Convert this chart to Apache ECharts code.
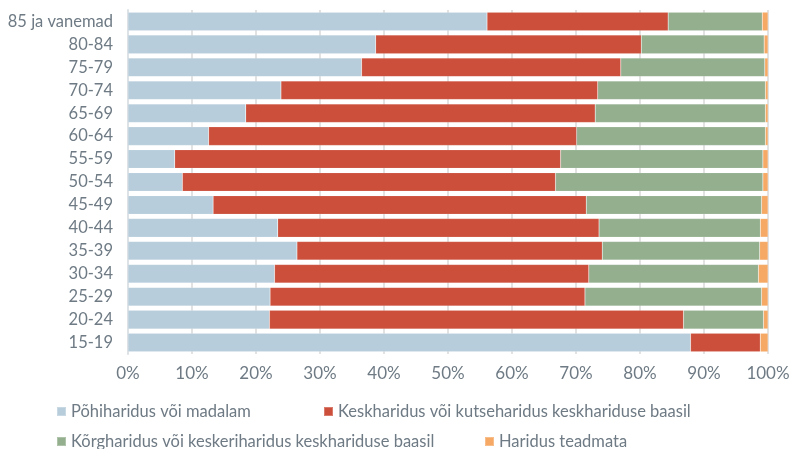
<!DOCTYPE html>
<html>
<head>
<meta charset="utf-8">
<script src="https://cdn.jsdelivr.net/npm/echarts@6/dist/echarts.min.js"></script>
<style>
  html, body { margin: 0; padding: 0; background: #fff; }
  #main { width: 791px; height: 449px; }
</style>
</head>
<body>
<div id="main"></div>
<script>
// age groups, bottom to top
var ageGroups = ['15-19', '20-24', '25-29', '30-34', '35-39', '40-44', '45-49', '50-54',
    '55-59', '60-64', '65-69', '70-74', '75-79', '80-84', '85 ja vanemad'];

// shares in %, same order as ageGroups
var pohiharidus  = [87.9, 22.1, 22.2, 22.9, 26.4, 23.4, 13.3, 8.5, 7.3, 12.6, 18.4, 23.9, 36.5, 38.7, 56.1];
var keskharidus  = [10.9, 64.7, 49.2, 49.1, 47.7, 50.2, 58.3, 58.3, 60.3, 57.5, 54.6, 49.5, 40.5, 41.5, 28.3];
var korgharidus  = [0.0, 12.5, 27.6, 26.5, 24.6, 25.2, 27.4, 32.4, 31.6, 29.5, 26.6, 26.2, 22.5, 19.2, 14.7];
var teadmata     = [1.2, 0.7, 1.0, 1.5, 1.3, 1.2, 1.0, 0.8, 0.8, 0.4, 0.4, 0.4, 0.5, 0.6, 0.9];

var seriesNames = ['Põhiharidus või madalam', 'Keskharidus või kutseharidus keskhariduse baasil',
    'Kõrgharidus või keskeriharidus keskhariduse baasil', 'Haridus teadmata'];
var colors = ['#b7cddb', '#cb4f3b', '#93af8e', '#f5a965'];
var xTicks = [0, 10, 20, 30, 40, 50, 60, 70, 80, 90, 100];

var fontFam = 'Lato';
var textGray = '#6e7a84';

var myChart = echarts.init(document.getElementById('main'));

function makeSeries(i, data) {
    return {
        name: seriesNames[i],
        type: 'bar',
        stack: 'total',
        barCategoryGap: '19%',
        itemStyle: { color: colors[i], borderColor: 'rgba(255,255,255,0.25)', borderWidth: 0.5 },
        data: data
    };
}

function makeLegend(name, left, top) {
    return {
        data: [name],
        left: left,
        top: top,
        itemWidth: 9,
        itemHeight: 9,
        icon: 'rect',
        textStyle: { fontFamily: fontFam, fontSize: 16.5, color: textGray }
    };
}

var option = {
    animation: false,
    color: colors,
    grid: { left: 128, right: 23, top: 10, bottom: 95, outerBoundsMode: 'none', containLabel: false },
    legend: [
        makeLegend(seriesNames[0], 51, 398),
        makeLegend(seriesNames[1], 318, 398),
        makeLegend(seriesNames[2], 51, 428),
        makeLegend(seriesNames[3], 479, 428)
    ],
    xAxis: {
        type: 'value',
        min: 0,
        max: 100,
        interval: 10,
        axisLine: { show: false },
        axisTick: { show: false },
        splitLine: { lineStyle: { color: '#e2e2e2', width: 2 } },
        axisLabel: {
            fontFamily: fontFam,
            fontSize: 17,
            color: textGray,
            margin: 11,
            formatter: function (v) { return xTicks.indexOf(v) >= 0 ? v + '%' : ''; }
        }
    },
    yAxis: {
        type: 'category',
        data: ageGroups,
        axisLine: { show: true, lineStyle: { color: '#dde2e6', width: 2 } },
        axisTick: { show: false },
        axisLabel: { interval: 0, fontFamily: fontFam, fontSize: 16.5, color: textGray, margin: 15 }
    },
    series: [
        makeSeries(0, pohiharidus),
        makeSeries(1, keskharidus),
        makeSeries(2, korgharidus),
        makeSeries(3, teadmata)
    ]
};

myChart.setOption(option);
</script>
</body>
</html>
